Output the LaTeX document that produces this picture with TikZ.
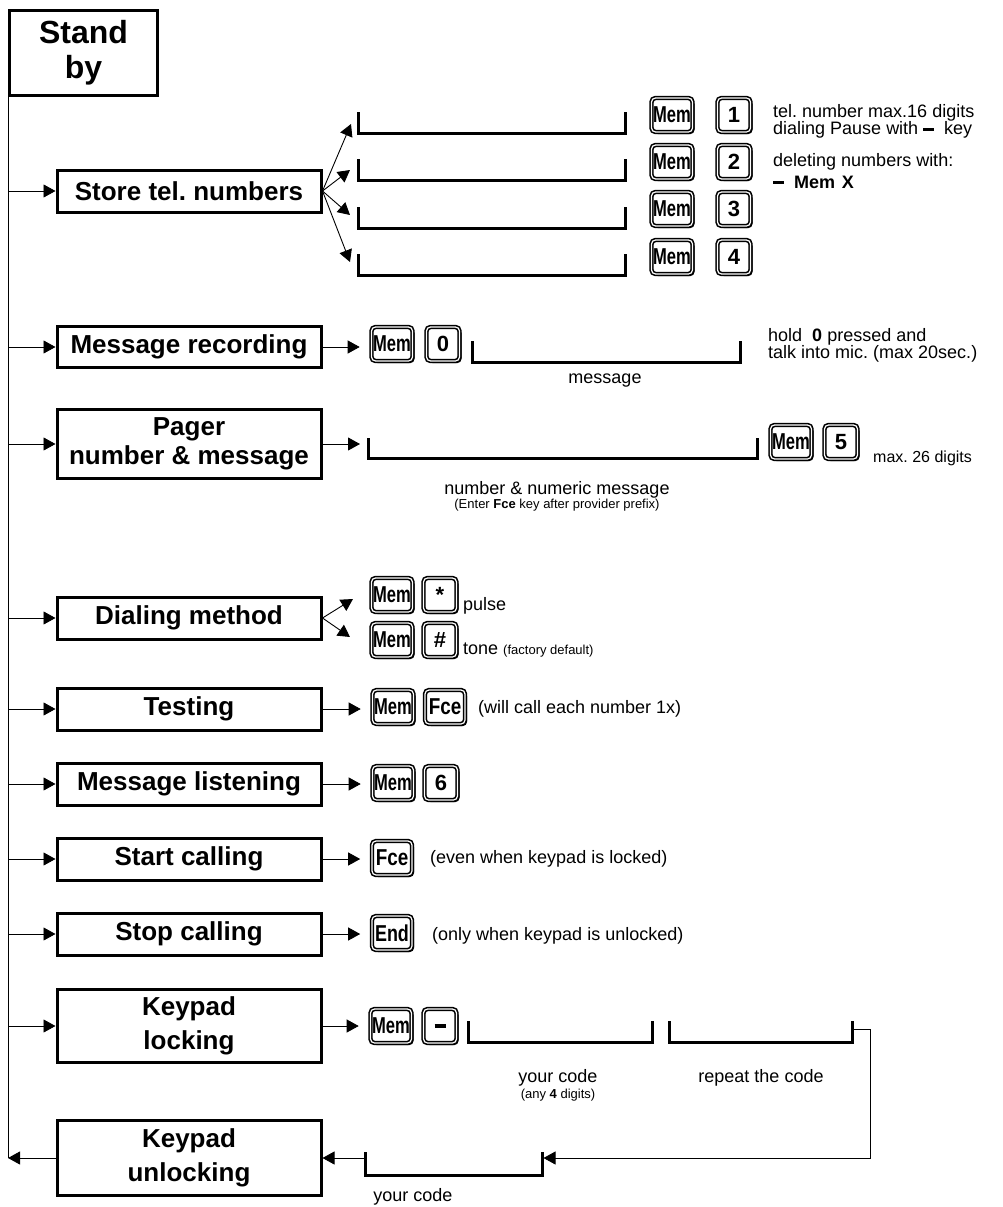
\documentclass[tikz,border=0pt]{standalone}
\usepackage{fontspec}
\setmainfont{Liberation Sans}
\usetikzlibrary{arrows.meta,shadows}
\frenchspacing
\newcommand{\squeeze}[2][0.72]{\scalebox{#1}[1]{#2}}
\tikzset{
  menu/.style={draw, line width=3pt, minimum width=264pt, minimum height=42pt,
    inner sep=0pt, align=center, font=\fontsize{26}{34}\selectfont\bfseries},
  keybtn/.style={draw, fill=white, line width=1.6pt, double, double distance=1.2pt,
    rounded corners=4pt, minimum height=34pt, inner sep=0pt,
    drop shadow={shadow xshift=2pt, shadow yshift=-2pt, fill=black, opacity=1},
    font=\fontsize{23}{23}\selectfont\bfseries},
  memkey/.style={keybtn, minimum width=41pt},
  numkey/.style={keybtn, minimum width=33pt, font=\fontsize{22}{22}\selectfont\bfseries},
  slot/.style={line width=3pt},
  arr/.style={-{Triangle[length=12pt,width=13pt]}, line width=0.9pt},
  note/.style={inner sep=0pt, font=\fontsize{18}{20}\selectfont},
  smallnote/.style={inner sep=0pt, font=\fontsize{13}{15}\selectfont}
}
\begin{document}
\begin{tikzpicture}[x=1pt,y=-1pt]
  \useasboundingbox (0,0) rectangle (1002,1207);

  \node[menu, minimum width=148pt, minimum height=85pt, font=\fontsize{32}{35}\selectfont\bfseries] (standby) at (83.5,53) {Stand\\by};

  % menu boxes
  \node[menu] (store) at (189,191) {Store tel. numbers};
  \node[menu, minimum height=41pt] (msgrec) at (189,347) {Message recording};
  \node[menu, minimum height=69pt, font=\fontsize{26}{29}\selectfont\bfseries] (pager) at (189,444) {Pager\\number \& message};
  \node[menu] (dial) at (189,618) {Dialing method};
  \node[menu] (test) at (189,709) {Testing};
  \node[menu] (listen) at (189,784) {Message listening};
  \node[menu] (start) at (189,859) {Start calling};
  \node[menu] (stop) at (189,934) {Stop calling};
  \node[menu, minimum height=73pt] (lock) at (189,1026) {Keypad\\locking};
  \node[menu, minimum height=75pt] (unlock) at (189,1158) {Keypad\\unlocking};

  % trunk
  \coordinate (trunkend) at (standby.south west |- unlock.west);
  \draw[line width=0.9pt] (standby.south west) -- (trunkend);
  \foreach \b in {store,msgrec,pager,dial,test,listen,start,stop,lock}
    \draw[arr] (standby.south west |- \b.west) -- (\b.west);
  \draw[arr] (unlock.west) -- (trunkend);

  % store tel. numbers
  \foreach \i/\y in {1/133,2/180,3/228,4/275}
    \draw[slot] (358,\y-21) -- (358,\y) -- (625,\y) -- (625,\y-21);
  \foreach \i/\x/\y in {1/351/124,2/350/170,3/350/215,4/350/262}{
    \coordinate (fan\i) at (\x,\y);
    \draw[arr] (store.east) -- (fan\i);
  }
  \foreach \i/\y in {1/115,2/162,3/209,4/257}{
    \node[memkey] (mem\i) at (672,\y) {\squeeze{Mem}};
    \node[numkey] (num\i) at (734,\y) {\i};
  }
  \node[note, anchor=west] (hint1) at (773,113) {tel. number max.16 digits};
  \node[note, anchor=west] (hint2) at (773,130) {dialing Pause with \rule[0.22em]{0.6em}{0.16em}\ \ key};
  \node[note, anchor=west] (hint3) at (773,162) {deleting numbers with:};
  \node[note, anchor=west, font=\fontsize{18}{20}\selectfont\bfseries] (hint4) at (773,182) {\rule[0.22em]{0.6em}{0.16em}\hspace{10pt}Mem\hspace{7pt}X};

  % message recording
  \node[memkey] (mem0) at (392,344) {\squeeze{Mem}};
  \node[numkey] (num0) at (443,344) {0};
  \draw[arr, shorten >=11pt] (msgrec.east) -- (msgrec.east -| mem0.west);
  \draw[slot] (472,341) -- (472,362) -- (740,362) -- (740,341);
  \node[note] (msglbl) at (605,381) {message};
  \node[note, anchor=west] (holdtxt) at (768,337) {hold \ \textbf{0} pressed and};
  \node[note, anchor=west] (talktxt) at (768,354) {talk into mic. (max 20sec.)};

  % pager
  \coordinate (pgslot) at (368,440);
  \draw[slot] (368,438) -- (368,458) -- (757,458) -- (757,438);
  \draw[arr, shorten >=8pt] (pager.east) -- (pager.east -| pgslot);
  \node[memkey] (mem5) at (791,442) {\squeeze{Mem}};
  \node[numkey] (num5) at (841,442) {5};
  \node[note, anchor=west, font=\fontsize{16}{18}\selectfont] (maxtxt) at (873,458) {max. 26 digits};
  \node[note] (pglbl) at (557,490) {number \& numeric message};
  \node[smallnote] (pgnote) at (557,505) {(Enter \textbf{Fce} key after provider prefix)};

  % dialing method
  \coordinate (pulsetip) at (353,599);
  \coordinate (tonetip) at (350,637);
  \draw[arr] (dial.east) -- (pulsetip);
  \draw[arr] (dial.east) -- (tonetip);
  \node[memkey] (memst) at (392,595) {\squeeze{Mem}};
  \node[numkey] (star) at (440,595) {*};
  \node[memkey] (memha) at (392,640) {\squeeze{Mem}};
  \node[numkey] (hash) at (440,640) {\#};
  \node[note, anchor=west] (pulsetxt) at (463,606) {pulse};
  \node[note, anchor=west] (tonetxt) at (463,650) {tone {\fontsize{13}{15}\selectfont (factory default)}};

  % testing
  \node[memkey] (memte) at (393,707) {\squeeze{Mem}};
  \node[keybtn, minimum width=40pt] (fcete) at (445,707) {\squeeze[0.82]{Fce}};
  \draw[arr, shorten >=11pt] (test.east) -- (test.east -| memte.west);
  \node[note, anchor=west] (testtxt) at (478,709) {(will call each number 1x)};

  % message listening
  \node[memkey] (memli) at (393,783) {\squeeze{Mem}};
  \node[numkey] (num6) at (441,783) {6};
  \draw[arr, shorten >=11pt] (listen.east) -- (listen.east -| memli.west);

  % start / stop calling
  \node[keybtn, minimum width=40pt] (fcest) at (392,858) {\squeeze[0.82]{Fce}};
  \draw[arr, shorten >=11pt] (start.east) -- (start.east -| fcest.west);
  \node[note, anchor=west] (starttxt) at (430,859) {(even when keypad is locked)};
  \node[keybtn, minimum width=40pt] (endkey) at (392,933) {\squeeze[0.78]{End}};
  \draw[arr, shorten >=11pt] (stop.east) -- (stop.east -| endkey.west);
  \node[note, anchor=west] (stoptxt) at (432,936) {(only when keypad is unlocked)};

  % keypad locking
  \node[memkey] (memlo) at (391,1026) {\squeeze{Mem}};
  \node[numkey] (dashkey) at (440,1026) {\rule{0.5em}{0.14em}};
  \draw[arr, shorten >=11pt] (lock.east) -- (lock.east -| memlo.west);
  \draw[slot] (468,1021) -- (468,1042) -- (652,1042) -- (652,1021);
  \draw[slot] (669,1021) -- (669,1042) -- (852,1042) -- (852,1021);
  \node[note] (codelbl) at (558,1078) {your code};
  \node[smallnote] (anylbl) at (558,1095) {(any \textbf{4} digits)};
  \node[note] (replbl) at (761,1078) {repeat the code};

  % keypad unlocking
  \draw[slot] (365,1152) -- (365,1175) -- (542,1175) -- (542,1152);
  \coordinate (codeend) at (852,1029);
  \coordinate (bend) at (870,1029);
  \coordinate (ulright) at (542,1158);
  \coordinate (ulleft) at (365,1158);
  \draw[arr, shorten >=1.5pt] (codeend) -- (bend) |- (ulright);
  \draw[arr] (ulleft) -- (unlock.east);
  \node[note] (codelbl2) at (413,1197) {your code};
\end{tikzpicture}
\end{document}
